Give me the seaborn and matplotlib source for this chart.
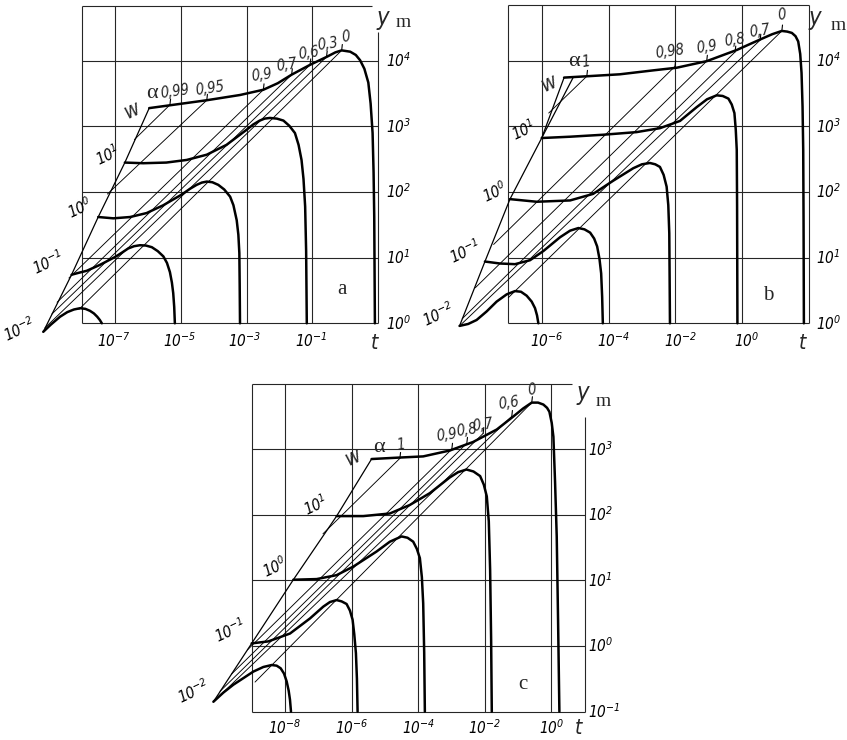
import numpy as np
import matplotlib
matplotlib.use("Agg")
import matplotlib.pyplot as plt
import matplotlib.font_manager as fm
import seaborn as sns

# estilo: dibujo de lineas negras sobre blanco
sns.set_theme(style="white")
fonts = fm.fontManager.ttflist
names = {f.name for f in fonts}
STRETCH = "normal"
if "Liberation Sans Narrow" in names:
    NARROW = "Liberation Sans Narrow"
elif any(f.name == "DejaVu Sans" and f.stretch == "condensed" for f in fonts):
    NARROW, STRETCH = "DejaVu Sans", "condensed"
elif "Roboto Condensed" in names:
    NARROW = "Roboto Condensed"
elif "Roboto" in names:
    NARROW = "Roboto"
else:
    NARROW = "DejaVu Sans"
SERIF = "Liberation Serif" if "Liberation Serif" in names else "DejaVu Serif"
plt.rcParams.update({
    "font.family": [NARROW, "DejaVu Sans"],
    "font.stretch": STRETCH,
    "mathtext.fontset": "custom",
    "mathtext.rm": f"{NARROW}:italic:stretch={STRETCH}",
    "mathtext.it": f"{NARROW}:italic:stretch={STRETCH}",
    "mathtext.sf": f"{NARROW}:italic:stretch={STRETCH}",
})

# --- DATA: exponents, lt = log10(t), ly = log10(y_m) ---
W_LABELS = ["$10^{-2}$", "$10^{-1}$", "$10^{0}$", "$10^{1}$"]

# panel a
A_W_LT = [-9.18, -8.32, -7.51, -6.70, -5.96]
A_W_LY = [-0.13, 0.74, 1.62, 2.45, 3.28]
A_CURVES_LT = [
    [-9.18, -8.95, -8.67, -8.45, -8.25, -8.06, -7.90, -7.76, -7.64, -7.54, -7.46, -7.40],
    [-8.32, -8.10, -7.86, -7.46, -7.00, -6.78, -6.60, -6.42, -6.24, -6.06, -5.88, -5.70,
     -5.53, -5.42, -5.33, -5.27, -5.23, -5.20, -5.18],
    [-7.51, -7.05, -6.54, -6.04, -5.53, -4.98, -4.72, -4.52, -4.36, -4.21, -4.04, -3.86,
     -3.68, -3.50, -3.40, -3.30, -3.25, -3.22, -3.21, -3.20],
    [-6.70, -6.14, -5.44, -4.82, -4.21, -3.61, -3.00, -2.80, -2.60, -2.45, -2.29, -2.08,
     -1.88, -1.70, -1.53, -1.42, -1.33, -1.27, -1.22, -1.19, -1.17],
    [-5.96, -5.23, -4.21, -3.20, -2.49, -2.05, -1.63, -1.07, -0.57, -0.30, -0.11, 0.15,
     0.32, 0.45, 0.58, 0.70, 0.77, 0.83, 0.86, 0.88, 0.89, 0.90],
]
A_CURVES_LY = [
    [-0.13, -0.02, 0.10, 0.17, 0.21, 0.23, 0.22, 0.19, 0.15, 0.10, 0.05, 0.00],
    [0.74, 0.77, 0.80, 0.89, 1.01, 1.08, 1.14, 1.175, 1.19, 1.185, 1.16, 1.10,
     1.02, 0.92, 0.78, 0.62, 0.46, 0.25, 0.00],
    [1.62, 1.60, 1.62, 1.68, 1.80, 1.96, 2.05, 2.11, 2.145, 2.16, 2.15, 2.11,
     2.04, 1.93, 1.80, 1.57, 1.35, 1.07, 0.60, 0.00],
    [2.45, 2.44, 2.45, 2.49, 2.57, 2.72, 2.95, 3.03, 3.09, 3.12, 3.13, 3.12,
     3.09, 3.01, 2.90, 2.72, 2.49, 2.20, 1.78, 1.10, 0.00],
    [3.28, 3.33, 3.40, 3.48, 3.56, 3.66, 3.79, 3.94, 4.06, 4.13, 4.16, 4.14,
     4.09, 4.01, 3.88, 3.67, 3.35, 2.90, 2.30, 1.63, 0.80, 0.00],
]
A_ALPHA = ["0,99", "0,95", "0,9", "0,7", "0,6", "0,3", "0"]
A_ALPHA_LT0 = [-6.41, -7.23, -8.40, -8.76, -8.92, -9.13, -8.10]
A_ALPHA_LY0 = [2.80, 1.97, 0.69, 0.32, 0.14, -0.07, 0.21]
A_ALPHA_LT1 = [-5.33, -4.21, -2.49, -1.63, -1.07, -0.57, -0.11]
A_ALPHA_LY1 = [3.33, 3.40, 3.56, 3.79, 3.94, 4.06, 4.16]
A_XTICKS = [-7, -5, -3, -1]
A_YTICKS = [0, 1, 2, 3, 4]

# panel b
B_W_LT = [-8.46, -7.70, -6.95, -6.00, -5.33]
B_W_LY = [-0.04, 0.94, 1.89, 2.82, 3.74]
B_CURVES_LT = [
    [-8.46, -8.20, -7.95, -7.65, -7.35, -7.05, -6.80, -6.62, -6.45, -6.30, -6.20, -6.14, -6.10],
    [-7.70, -7.25, -6.80, -6.35, -5.95, -5.45, -5.15, -4.90, -4.72, -4.55, -4.43, -4.34,
     -4.27, -4.22, -4.19, -4.17],
    [-6.95, -6.15, -5.15, -4.46, -3.86, -3.26, -3.00, -2.76, -2.60, -2.46, -2.35, -2.26,
     -2.21, -2.18, -2.17, -2.16],
    [-6.00, -5.15, -4.16, -3.16, -2.46, -1.86, -1.36, -1.05, -0.76, -0.58, -0.41, -0.31,
     -0.23, -0.19, -0.16, -0.15, -0.14],
    [-5.33, -4.65, -3.66, -2.66, -1.96, -1.06, -0.16, 0.54, 0.90, 1.19, 1.35, 1.49,
     1.60, 1.68, 1.74, 1.78, 1.81, 1.83, 1.84, 1.85],
]
B_CURVES_LY = [
    [-0.04, -0.01, 0.05, 0.18, 0.33, 0.44, 0.49, 0.48, 0.42, 0.33, 0.23, 0.12, 0.00],
    [0.94, 0.91, 0.90, 0.96, 1.10, 1.31, 1.41, 1.45, 1.43, 1.38, 1.29, 1.17,
     0.98, 0.76, 0.40, 0.00],
    [1.89, 1.85, 1.87, 1.97, 2.17, 2.36, 2.42, 2.44, 2.42, 2.38, 2.26, 2.08,
     1.80, 1.37, 0.70, 0.00],
    [2.82, 2.84, 2.87, 2.91, 2.97, 3.08, 3.29, 3.41, 3.47, 3.46, 3.42, 3.33,
     3.20, 2.95, 2.64, 1.80, 0.00],
    [3.74, 3.76, 3.79, 3.85, 3.89, 3.99, 4.16, 4.32, 4.40, 4.45, 4.44, 4.42,
     4.37, 4.29, 4.10, 3.81, 3.30, 2.64, 1.60, 0.00],
]
B_ALPHA = ["1", "0,98", "0,9", "0,8", "0,7", "0"]
B_ALPHA_LT0 = [-5.79, -7.44, -7.99, -8.38, -8.46, -7.00]
B_ALPHA_LY0 = [3.20, 1.20, 0.54, 0.07, -0.04, 0.39]
B_ALPHA_LT1 = [-4.65, -2.01, -1.06, -0.21, 0.54, 1.19]
B_ALPHA_LY1 = [3.76, 3.91, 3.99, 4.13, 4.31, 4.45]
B_XTICKS = [-6, -4, -2, 0]
B_YTICKS = [0, 1, 2, 3, 4]

# panel c
C_W_LT = [-10.15, -9.00, -7.75, -6.45, -5.40]
C_W_LY = [-0.85, 0.04, 1.01, 1.98, 2.85]
C_CURVES_LT = [
    [-10.15, -9.85, -9.55, -8.95, -8.65, -8.40, -8.25, -8.13, -8.03, -7.95, -7.89, -7.85, -7.82],
    [-9.00, -8.50, -7.85, -7.25, -6.85, -6.65, -6.45, -6.30, -6.15, -6.05, -5.97, -5.92,
     -5.87, -5.84, -5.82],
    [-7.75, -7.05, -6.45, -5.95, -5.25, -4.85, -4.50, -4.32, -4.15, -4.04, -3.95, -3.89,
     -3.85, -3.82, -3.80],
    [-6.45, -5.65, -4.85, -4.25, -3.65, -3.05, -2.80, -2.55, -2.34, -2.14, -2.03, -1.94,
     -1.88, -1.84, -1.81, -1.79],
    [-5.40, -4.65, -3.85, -3.05, -2.35, -1.64, -1.14, -0.85, -0.59, -0.40, -0.24, -0.13,
     -0.06, 0.01, 0.06, 0.11, 0.16, 0.20, 0.24],
]
C_CURVES_LY = [
    [-0.85, -0.71, -0.59, -0.39, -0.32, -0.29, -0.30, -0.34, -0.42, -0.54, -0.68, -0.82, -1.00],
    [0.04, 0.07, 0.19, 0.42, 0.60, 0.67, 0.70, 0.68, 0.64, 0.54, 0.40, 0.18,
     -0.11, -0.50, -1.00],
    [1.01, 1.02, 1.08, 1.21, 1.44, 1.59, 1.67, 1.65, 1.59, 1.48, 1.34, 1.05,
     0.65, -0.10, -1.00],
    [1.98, 1.98, 2.02, 2.15, 2.33, 2.57, 2.65, 2.69, 2.66, 2.59, 2.46, 2.28,
     1.90, 1.16, 0.10, -1.00],
    [2.85, 2.87, 2.89, 2.98, 3.11, 3.30, 3.50, 3.62, 3.71, 3.71, 3.68, 3.63,
     3.57, 3.40, 3.19, 2.50, 1.67, 0.40, -1.00],
]
C_ALPHA = ["1", "0,9", "0,8", "0,7", "0,6", "0"]
C_ALPHA_LT0 = [-6.86, -9.13, -9.61, -9.95, -10.15, -8.90]
C_ALPHA_LY0 = [1.71, -0.06, -0.43, -0.69, -0.85, -0.55]
C_ALPHA_LT1 = [-4.55, -2.99, -2.54, -2.05, -1.19, -0.59]
C_ALPHA_LY1 = [2.86, 3.00, 3.09, 3.24, 3.50, 3.71]
C_XTICKS = [-8, -6, -4, -2, 0]
C_YTICKS = [-1, 0, 1, 2, 3]


def P(v):
    return 10.0 ** np.asarray(v, dtype=float)


# --- LAYOUT (figure pixels -> axes rect, exponent limits, label places) ---
W, H = 847, 740
PANELS = [
    dict(letter="a", px=(0, 0, 420, 370), xlim=(-10.495, 2.271), ylim=(-0.712, 4.928),
         w_lt=A_W_LT, w_ly=A_W_LY, c_lt=A_CURVES_LT, c_ly=A_CURVES_LY,
         al=A_ALPHA, a_lt0=A_ALPHA_LT0, a_ly0=A_ALPHA_LY0, a_lt1=A_ALPHA_LT1, a_ly1=A_ALPHA_LY1,
         xt=A_XTICKS, yt=A_YTICKS, xt_dx=-0.05, xt_y=-0.27, yt_x=1.25,
         vl=[(-8, 0, 4.84), (-7, 0, 4.84), (-5, 0, 4.84), (-3, 0, 4.84), (-1, 0, 4.84), (1, 0, 4.44)],
         hl=[(0, -8, 1), (1, -8, 1), (2, -8, 1), (3, -8, 1), (4, -8, 1), (4.84, -8, 0.81)],
         t=(0.90, -0.30), y=(1.15, 4.65), m=(1.75, 4.58), let=(-0.10, 0.51),
         wl=[(-9.89, -0.10), (-9.04, 0.92), (-8.06, 1.76), (-7.24, 2.56)], wsym=(-6.48, 3.25),
         asym=(-5.88, 3.51),
         apos=[(-5.18, 3.53), (-4.11, 3.58), (-2.54, 3.79), (-1.78, 3.94), (-1.12, 4.12),
               (-0.52, 4.25), (0.03, 4.36)],
         wedge=None),
    dict(letter="b", px=(420, 0, 847, 370), xlim=(-9.644, 3.141), ylim=(-0.711, 4.921),
         w_lt=B_W_LT, w_ly=B_W_LY, c_lt=B_CURVES_LT, c_ly=B_CURVES_LY,
         al=B_ALPHA, a_lt0=B_ALPHA_LT0, a_ly0=B_ALPHA_LY0, a_lt1=B_ALPHA_LT1, a_ly1=B_ALPHA_LY1,
         xt=B_XTICKS, yt=B_YTICKS, xt_dx=0.15, xt_y=-0.27, yt_x=2.22,
         vl=[(-7, 0, 4.85), (-6, 0, 4.85), (-4, 0, 4.85), (-2, 0, 4.85), (0, 0, 4.85), (2, 0, 4.85)],
         hl=[(0, -7, 2), (1, -7, 2), (2, -7, 2), (3, -7, 2), (4, -7, 2), (4.85, -7, 2)],
         t=(1.82, -0.30), y=(2.18, 4.65), m=(2.87, 4.54), let=(0.78, 0.43),
         wl=[(-9.10, 0.13), (-8.30, 1.09), (-7.40, 2.00), (-6.55, 2.94)], wsym=(-5.80, 3.65),
         asym=(-5.03, 3.98),
         apos=[(-4.68, 3.98), (-2.16, 4.13), (-1.06, 4.21), (-0.21, 4.31), (0.54, 4.44), (1.19, 4.69)],
         wedge=((-6.00, 2.82), (-5.05, 3.75))),
    dict(letter="c", px=(180, 370, 650, 740), xlim=(-11.153, 2.961), ylim=(-1.433, 4.207),
         w_lt=C_W_LT, w_ly=C_W_LY, c_lt=C_CURVES_LT, c_ly=C_CURVES_LY,
         al=C_ALPHA, a_lt0=C_ALPHA_LT0, a_ly0=C_ALPHA_LY0, a_lt1=C_ALPHA_LT1, a_ly1=C_ALPHA_LY1,
         xt=C_XTICKS, yt=C_YTICKS, xt_dx=0.0, xt_y=-1.25, yt_x=1.11,
         vl=[(-9, -1, 4.0), (-8, -1, 4.0), (-6, -1, 4.0), (-4, -1, 4.0), (-2, -1, 4.0), (0, -1, 4.0),
             (1, -1, 3.49)],
         hl=[(-1, -9, 1), (0, -9, 1), (1, -9, 1), (2, -9, 1), (3, -9, 1), (4.0, -9, 0.62)],
         t=(0.80, -1.25), y=(0.95, 3.86), m=(1.55, 3.72), let=(-0.85, -0.59),
         wl=[(-10.76, -0.70), (-9.65, 0.24), (-8.30, 1.20), (-7.10, 2.15)], wsym=(-5.96, 2.87),
         asym=(-5.17, 3.03),
         apos=[(-4.53, 3.06), (-3.14, 3.22), (-2.54, 3.29), (-2.05, 3.37), (-1.29, 3.70), (-0.59, 3.90)],
         wedge=None),
]

GRID_KW = dict(color="0.15", lw=0.8)
THIN_KW = dict(color="black", lw=0.65)
THICK = 1.8

fig = plt.figure(figsize=(W / 100, H / 100), dpi=100)
fig.patch.set_facecolor("white")

for p in PANELS:
    x0, y0, x1, y1 = p["px"]
    ax = fig.add_axes([x0 / W, 1 - y1 / H, (x1 - x0) / W, (y1 - y0) / H])
    ax.set_xscale("log")
    ax.set_yscale("log")
    ax.patch.set_alpha(0)

    # rejilla y marco
    for x, ya, yb in p["vl"]:
        ax.vlines(P(x), P(ya), P(yb), **GRID_KW)
    for y, xa, xb in p["hl"]:
        ax.hlines(P(y), P(xa), P(xb), **GRID_KW)

    # rectas de alfa constante (con su marca corta sobre la curva)
    for a0, b0, a1, b1 in zip(p["a_lt0"], p["a_ly0"], p["a_lt1"], p["a_ly1"]):
        ax.plot(P([a0, a1]), P([b0, b1]), **THIN_KW)
        ax.plot(P([a1, a1 + 0.02]), P([b1, b1 + 0.09]), color="black", lw=0.8)

    # eje w
    ax.plot(P(p["w_lt"]), P(p["w_ly"]), color="black", lw=0.9)
    if p["wedge"] is not None:
        (wa, wb), (wc, wd) = p["wedge"]
        ax.plot(P([wa, wc]), P([wb, wd]), color="black", lw=0.9)

    # curvas gruesas
    for lt, ly in zip(p["c_lt"], p["c_ly"]):
        sns.lineplot(x=P(lt), y=P(ly), ax=ax, color="black", lw=THICK,
                     estimator=None, sort=False)

    # textos
    tk = dict(fontsize=11, color="black")
    for e in p["xt"]:
        ax.text(P(e + p["xt_dx"]), P(p["xt_y"]), f"$10^{{{e}}}$", ha="center", va="center", **tk)
    for e in p["yt"]:
        ax.text(P(p["yt_x"]), P(e), f"$10^{{{e}}}$", ha="left", va="center", **tk)
    for lab, (u, v) in zip(W_LABELS, p["wl"]):
        ax.text(P(u), P(v), lab, ha="center", va="center", rotation=25, **tk)
    ax.text(P(p["wsym"][0]), P(p["wsym"][1]), "w", ha="center", va="center", rotation=25,
            fontsize=15, style="italic")
    ax.text(P(p["asym"][0]), P(p["asym"][1]), "α", ha="center", va="center",
            fontsize=16, family=SERIF)
    for lab, (u, v) in zip(p["al"], p["apos"]):
        ax.text(P(u), P(v), lab, ha="center", va="center", rotation=8, fontsize=10.5,
                style="italic")
    ax.text(P(p["t"][0]), P(p["t"][1]), "t", ha="center", va="center", fontsize=15,
            style="italic")
    ax.text(P(p["y"][0]), P(p["y"][1]), "y", ha="center", va="center", fontsize=17,
            style="italic")
    ax.text(P(p["m"][0]), P(p["m"][1]), "m", ha="center", va="center", fontsize=14,
            family=SERIF)
    ax.text(P(p["let"][0]), P(p["let"][1]), p["letter"], ha="center", va="center",
            fontsize=15, family=SERIF)

    ax.set_xlim(P(p["xlim"]))
    ax.set_ylim(P(p["ylim"]))
    ax.axis("off")

fig.savefig("out.png", dpi=100, facecolor="white")
